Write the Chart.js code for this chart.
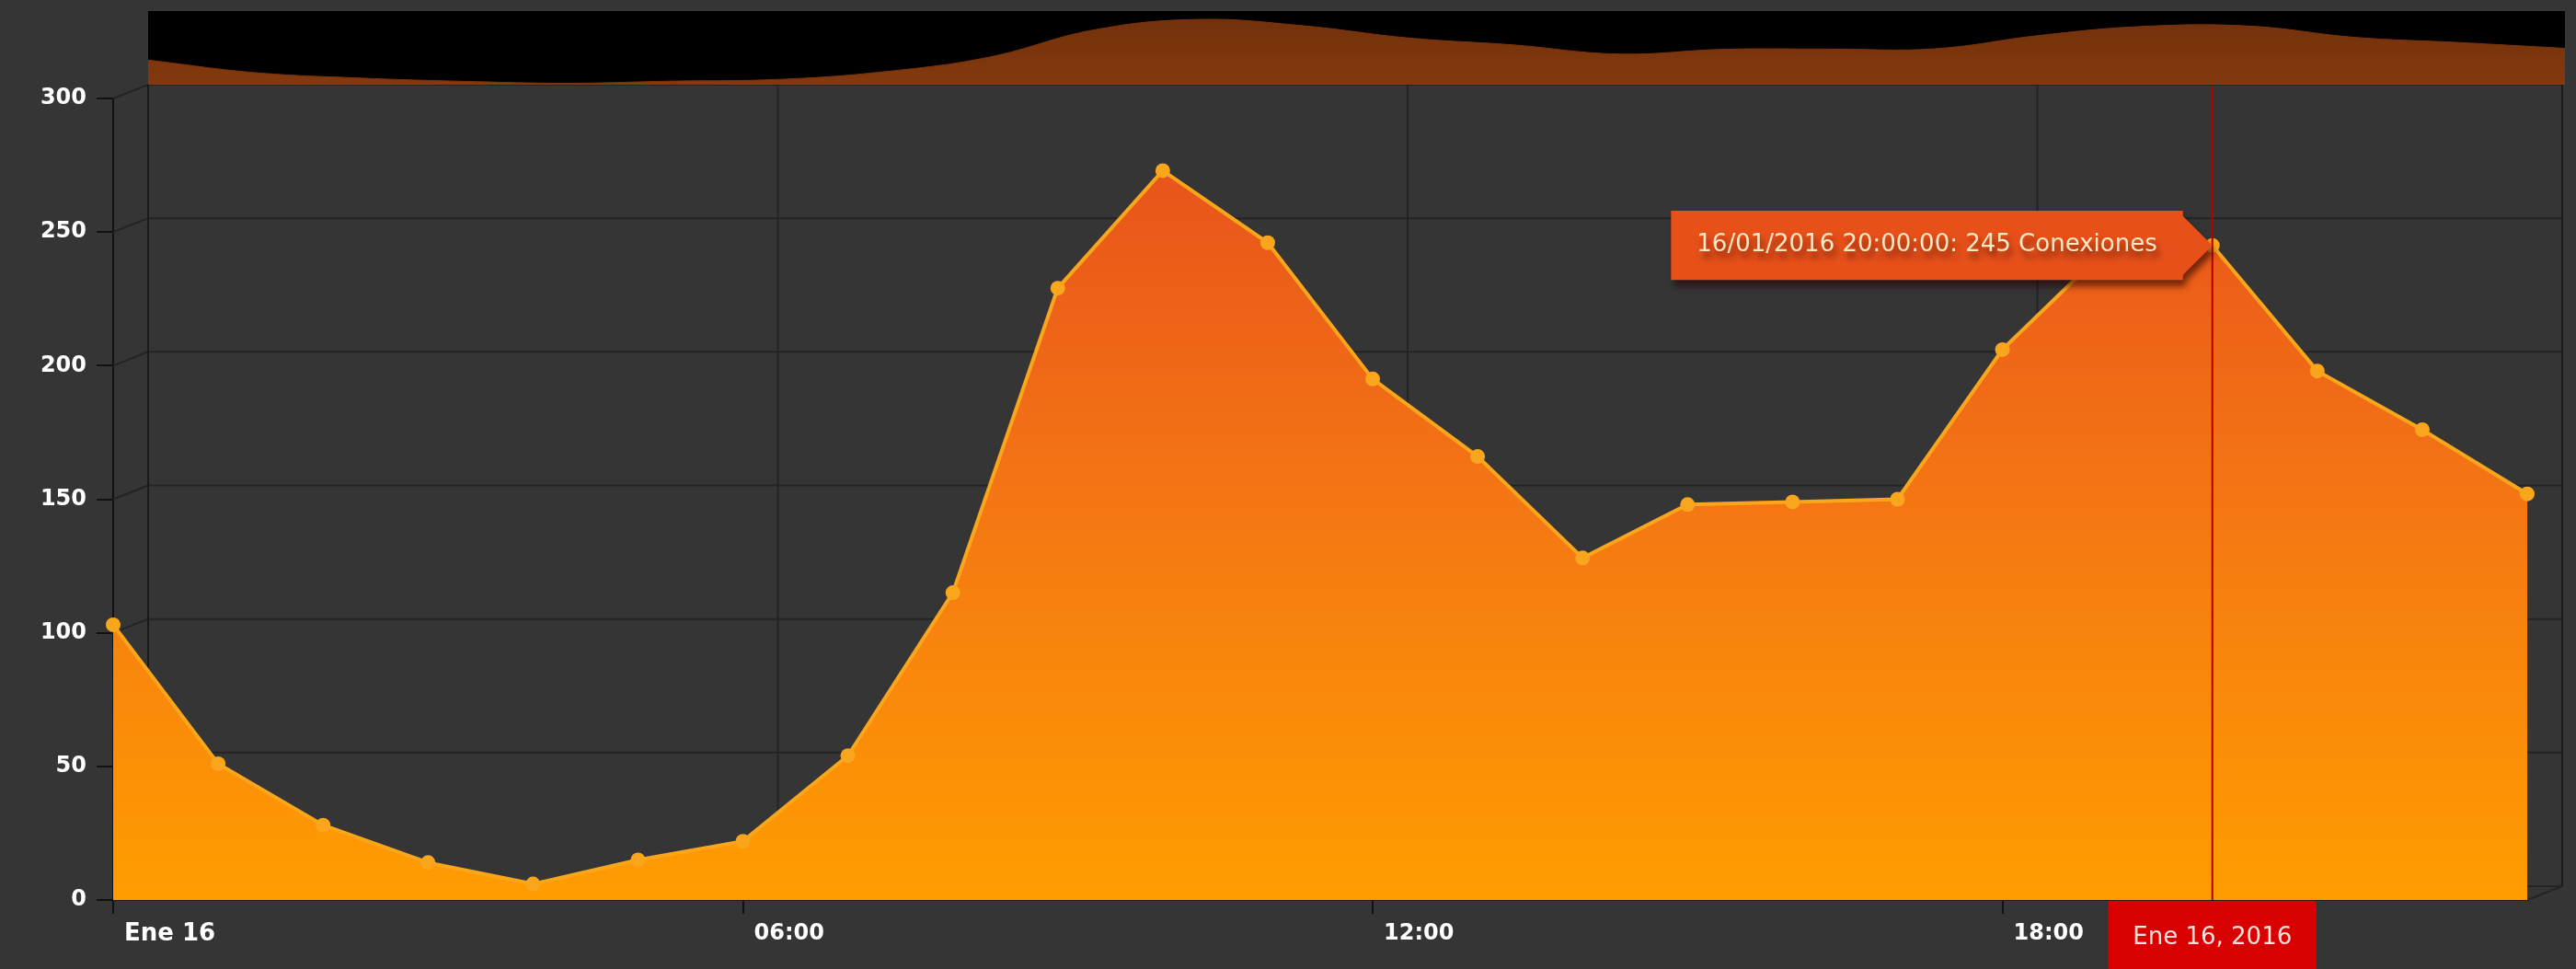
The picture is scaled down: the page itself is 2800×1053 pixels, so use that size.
<!DOCTYPE html>
<html>
<head>
<meta charset="utf-8">
<script src="https://cdn.jsdelivr.net/npm/chart.js@4"></script>
<style>
  html, body { margin: 0; padding: 0; background: #353535; overflow: hidden; }
  #wrap { position: relative; width: 2800px; height: 1053px; }
  #main { position: absolute; left: 0; top: 0; }
  #nav { position: absolute; background: #000; }
</style>
</head>
<body>
<div id="wrap">
  <canvas id="main" width="2800" height="1053"></canvas>
  <canvas id="nav" width="10" height="10"></canvas>
</div>
<script>
// ---- Data ----
const horas = ['00:00','01:00','02:00','03:00','04:00','05:00','06:00','07:00','08:00','09:00','10:00','11:00',
               '12:00','13:00','14:00','15:00','16:00','17:00','18:00','19:00','20:00','21:00','22:00','23:00'];
const conexiones = [103, 51, 28, 14, 6, 15, 22, 54, 115, 229, 273, 246,
                    195, 166, 128, 148, 149, 150, 206, 244, 245, 198, 176, 152];
const etiquetaDia = 'Ene 16';
const fecha = '16/01/2016';
const etiquetaCursor = 'Ene 16, 2016';
const yTicks = [0, 50, 100, 150, 200, 250, 300];
const indiceCursor = 20;

const FONT = "'DejaVu Sans', Verdana, sans-serif";
const DX = 38, DY = -15; // 3D depth offset of back wall

const backWall = {
  id: 'backWall',
  beforeDatasetsDraw(chart) {
    const { ctx, chartArea: a, scales: { x, y } } = chart;
    ctx.save();
    ctx.lineWidth = 2;
    ctx.strokeStyle = '#242424';
    ctx.beginPath();
    y.ticks.forEach(t => {
      const py = y.getPixelForValue(t.value);
      ctx.moveTo(a.left, py);
      ctx.lineTo(a.left + DX, py + DY);
      ctx.lineTo(a.right + DX, py + DY);
    });
    x.ticks.forEach((t, i) => {
      if (i % 6 === 0 && i > 0) {
        const px = x.getPixelForValue(i);
        ctx.moveTo(px + DX, a.top + DY);
        ctx.lineTo(px + DX, a.bottom + DY);
      }
    });
    ctx.moveTo(a.right, a.bottom);
    ctx.lineTo(a.right + DX, a.bottom + DY);
    ctx.stroke();
    ctx.strokeStyle = '#1a1a1a';
    ctx.beginPath();
    ctx.moveTo(a.left + DX, a.top + DY);
    ctx.lineTo(a.left + DX, a.bottom + DY);
    ctx.moveTo(a.right + DX, a.top + DY);
    ctx.lineTo(a.right + DX, a.bottom + DY);
    ctx.stroke();
    ctx.restore();
  }
};

const cursor = {
  id: 'cursor',
  afterDatasetsDraw(chart) {
    const { ctx, chartArea: a } = chart;
    const pt = chart.getDatasetMeta(0).data[indiceCursor];
    ctx.save();
    ctx.strokeStyle = '#b80000';
    ctx.lineWidth = 2;
    ctx.beginPath();
    ctx.moveTo(pt.x, a.top + DY + 1);
    ctx.lineTo(pt.x, a.bottom);
    ctx.stroke();
    ctx.restore();
  },
  beforeTooltipDraw(chart) {
    const ctx = chart.ctx;
    ctx.save();
    ctx.shadowColor = 'rgba(40,0,0,0.6)';
    ctx.shadowOffsetX = 3;
    ctx.shadowOffsetY = 7;
    ctx.shadowBlur = 7;
  },
  afterTooltipDraw(chart) {
    chart.ctx.restore();
  },
  afterDraw(chart) {
    const { ctx, chartArea: a } = chart;
    const pt = chart.getDatasetMeta(0).data[indiceCursor];
    const w = 226;
    ctx.save();
    ctx.fillStyle = '#d80000';
    ctx.fillRect(pt.x - w / 2, a.bottom + 1, w, chart.height - a.bottom);
    ctx.fillStyle = '#fde2de';
    ctx.font = '26px ' + FONT;
    ctx.textAlign = 'center';
    ctx.textBaseline = 'middle';
    ctx.fillText(etiquetaCursor, pt.x, a.bottom + 41);
    ctx.restore();
  }
};

const mainChart = new Chart(document.getElementById('main'), {
  type: 'line',
  data: {
    labels: horas,
    datasets: [{
      data: conexiones,
      fill: 'origin',
      backgroundColor: (c) => {
        const ca = c.chart.chartArea;
        if (!ca) return '#f7880f';
        const g = c.chart.ctx.createLinearGradient(0, ca.top, 0, ca.bottom);
        g.addColorStop(0, '#e64c1c');
        g.addColorStop(0.5, '#f47614');
        g.addColorStop(1, '#ff9d00');
        return g;
      },
      borderColor: '#f9a61d',
      borderWidth: 4,
      pointRadius: 8,
      pointHoverRadius: 8,
      pointBackgroundColor: '#f9a61d',
      pointBorderColor: '#f9a61d',
      pointBorderWidth: 0,
      tension: 0,
      clip: false
    }]
  },
  options: {
    responsive: false,
    animation: false,
    devicePixelRatio: 1,
    events: [],
    layout: { padding: { top: 107, right: 53, left: 0, bottom: 0 } },
    plugins: {
      legend: { display: false },
      tooltip: {
        enabled: true,
        xAlign: 'right',
        yAlign: 'center',
        backgroundColor: '#e8501a',
        bodyColor: '#ffe8c2',
        bodyFont: { family: FONT, size: 26 },
        padding: { x: 28, y: 22 },
        cornerRadius: 0,
        caretSize: 32,
        caretPadding: 0,
        displayColors: false,
        borderWidth: 0,
        callbacks: {
          title: () => '',
          label: (c) => fecha + ' ' + horas[c.dataIndex] + ':00: ' + c.parsed.y + ' Conexiones'
        }
      }
    },
    scales: {
      x: {
        type: 'category',
        afterFit: (s) => { s.height = 75; },
        grid: {
          drawOnChartArea: false,
          tickLength: 15,
          lineWidth: 2,
          color: (c) => (c.index % 6 === 0 ? '#111111' : 'rgba(0,0,0,0)')
        },
        border: { color: '#2a1a08', width: 2 },
        ticks: {
          autoSkip: false,
          maxRotation: 0,
          align: 'start',
          labelOffset: 12,
          padding: 7,
          color: '#ffffff',
          font: (c) => ({ family: FONT, size: c.index === 0 ? 26 : 24, weight: 'bold' }),
          callback: (v, i) => (i === 0 ? etiquetaDia : (i % 6 === 0 ? horas[i] : ''))
        }
      },
      y: {
        min: 0,
        max: 300,
        afterFit: (s) => { s.width = 123; },
        afterBuildTicks: (s) => { s.ticks = yTicks.map(v => ({ value: v })); },
        grid: { drawOnChartArea: false, tickLength: 18, lineWidth: 2, color: '#111111' },
        border: { color: '#111111', width: 2 },
        ticks: {
          padding: 11,
          color: '#ffffff',
          font: { family: FONT, size: 24, weight: 'bold' }
        }
      }
    }
  },
  plugins: [backWall, cursor]
});

const pt = mainChart.getDatasetMeta(0).data[indiceCursor];
mainChart.tooltip.setActiveElements([{ datasetIndex: 0, index: indiceCursor }], { x: pt.x, y: pt.y });
mainChart.draw();

// ---- Navigator (scrollbar preview) ----
const a = mainChart.chartArea;
const navCanvas = document.getElementById('nav');
const navTop = 12;
const navLeft = a.left + DX;
const navW = Math.round(a.right - a.left + 3);
const navH = Math.round(a.top + DY - navTop);
navCanvas.style.left = navLeft + 'px';
navCanvas.style.top = navTop + 'px';
navCanvas.width = navW;
navCanvas.height = navH;
navCanvas.style.width = navW + 'px';
navCanvas.style.height = navH + 'px';

new Chart(navCanvas, {
  type: 'line',
  data: {
    labels: horas,
    datasets: [{
      data: conexiones,
      fill: 'origin',
      backgroundColor: (c) => {
        const ca = c.chart.chartArea;
        if (!ca) return '#78330c';
        const g = c.chart.ctx.createLinearGradient(0, ca.top, 0, ca.bottom);
        g.addColorStop(0, '#70300b');
        g.addColorStop(1, '#84390e');
        return g;
      },
      borderColor: '#7a340c',
      borderWidth: 1,
      pointRadius: 0,
      tension: 0.4
    }]
  },
  options: {
    responsive: false,
    animation: false,
    devicePixelRatio: 1,
    events: [],
    layout: { padding: 0 },
    plugins: { legend: { display: false }, tooltip: { enabled: false } },
    scales: {
      x: { display: false, offset: false },
      y: { display: false, min: 0, max: 308 }
    }
  }
});
</script>
</body>
</html>
